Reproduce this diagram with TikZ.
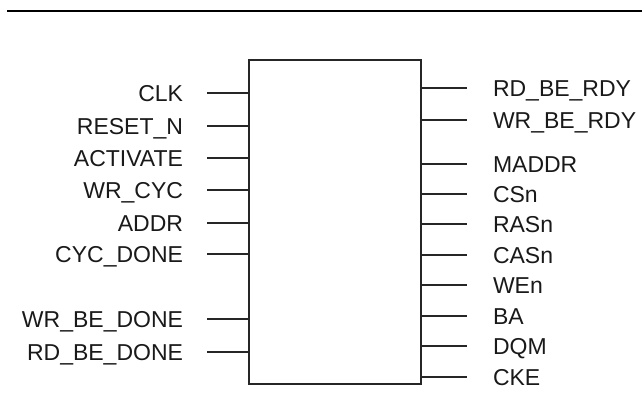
\documentclass[tikz,border=0pt]{standalone}
\usepackage{fontspec}
\setmainfont{Liberation Sans}
\begin{document}
\begin{tikzpicture}[x=1pt,y=-1pt,line width=2pt,
  lbl/.style={font=\fontsize{23}{27}\selectfont, inner sep=0pt, text=black!90},
  pin/.style={line width=2pt, draw=black!85}]
\useasboundingbox (0,0) rectangle (642,401);
\draw[line width=2.6pt] (7,11) -- (642,11);
\node[draw=black!85, line width=2pt, minimum width=172pt, minimum height=324pt, inner sep=0pt] (box) at (335,222) {};
\foreach \t/\y/\n in {CLK/93/a, RESET\_N/126/b, ACTIVATE/158/c, WR\_CYC/190/d, ADDR/223/e, CYC\_DONE/254/f, WR\_BE\_DONE/319/g, RD\_BE\_DONE/352/h} {
  \node[lbl, anchor=base east] (L\n) at (184,\y+8.2) {\t};
  \coordinate (P\n) at (207,\y);
  \draw[pin] (P\n) -- (P\n -| box.west);
}
\foreach \t/\y/\n in {RD\_BE\_RDY/88/a, WR\_BE\_RDY/120/b, MADDR/164/c, CSn/194/d, RASn/224/e, CASn/255/f, WEn/285/g, BA/316/h, DQM/346/i, CKE/377/j} {
  \node[lbl, anchor=base west] (R\n) at (492,\y+8.2) {\t};
  \coordinate (Q\n) at (467,\y);
  \draw[pin] (Q\n -| box.east) -- (Q\n);
}
\end{tikzpicture}
\end{document}
